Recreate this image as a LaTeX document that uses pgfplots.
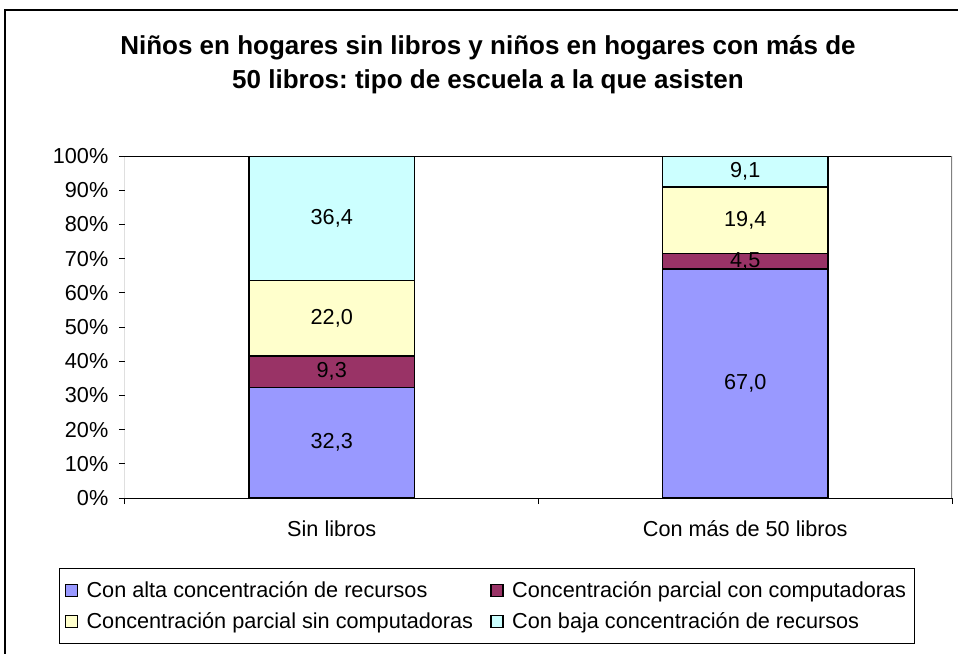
\documentclass[border=0pt]{standalone}
\usepackage{fontspec}
\setmainfont{Liberation Sans}
\usepackage{pgfplots}
\pgfplotsset{compat=1.18}
\definecolor{cblue}{HTML}{9999FF}
\definecolor{cmaroon}{HTML}{993366}
\definecolor{cyellow}{HTML}{FFFFCC}
\definecolor{ccyan}{HTML}{CCFFFF}
\newcommand{\bodyfont}{\fontsize{16.25}{19.5}\selectfont}
\frenchspacing
\pgfplotsset{
  mylegend/.style={legend image code/.code={\draw[##1, line width=0.8pt] (0pt,-4.5pt) rectangle (9pt,4.5pt);}},
  commonaxis/.style={
    at={(93.75pt,117pt)}, anchor=south west,
    scale only axis, width=620.25pt, height=256.5pt,
    xmin=-0.5, xmax=1.5, ymin=0, ymax=100,
  }
}
\begin{document}
\begin{tikzpicture}
\clip (0,0) rectangle (718.5pt,490.5pt);
\draw[line width=1.1pt] (3.75pt,-20pt) -- (3.75pt,483pt) -- (760pt,483pt);
\node[align=center,font=\fontsize{19.5}{26.25}\selectfont\bfseries] at (366pt,442pt)
  {Niños en hogares sin libros y niños en hogares con más de\\50 libros: tipo de escuela a la que asisten};
\begin{axis}[
  commonaxis,
  ybar stacked, bar width=0.4,
  xtick={0,1}, xticklabels={Sin libros, Con más de 50 libros},
  minor xtick={-0.5,0.5,1.5},
  ytick={0,10,...,100},
  yticklabel={\pgfmathprintnumber{\tick}\%},
  /pgf/number format/assume math mode=true,
  tick align=outside, xtick pos=bottom, ytick pos=left,
  major tick length=4.5pt, minor tick length=4.5pt,
  major x tick style={draw=none},
  tick style={black, line width=0.75pt},
  axis line style={draw=none},
  tick label style={font=\bodyfont},
  xticklabel style={yshift=-9pt},
  yticklabel style={xshift=-4.5pt},
  legend columns=2,
  legend cell align=left,
  legend style={at={(axis description cs:-0.0798,-0.4269)}, anchor=south west,
    draw=black, line width=0.75pt, font=\bodyfont, inner xsep=4pt, inner ysep=7.5pt,
    row sep=6pt,
    /tikz/every odd column/.append style={column sep=4.5pt},
    /tikz/every even column/.append style={column sep=11pt}},
]
\addplot[fill=cblue, draw=black, line width=1.3pt, mylegend] coordinates {(0,32.3) (1,67.0)};
\addplot[fill=cmaroon, draw=black, line width=1.3pt, mylegend] coordinates {(0,9.3) (1,4.5)};
\addplot[fill=cyellow, draw=black, line width=1.3pt, mylegend] coordinates {(0,22.0) (1,19.4)};
\addplot[fill=ccyan, draw=black, line width=1.3pt, mylegend] coordinates {(0,36.4) (1,9.1)};
\legend{Con alta concentración de recursos, Concentración parcial con computadoras,
        Concentración parcial sin computadoras, Con baja concentración de recursos}
\draw[gray, line width=1pt] (rel axis cs:1,0) -- (rel axis cs:1,1);
\draw[black, line width=0.75pt] (rel axis cs:1,1) -- (rel axis cs:0,1) -- (rel axis cs:0,0) -- (rel axis cs:1,0);
\end{axis}
\begin{axis}[commonaxis, axis lines=none]
\addplot[draw=none, mark=none,
  nodes near coords, point meta=explicit,
  nodes near coords align=center,
  every node near coord/.append style={font=\bodyfont, anchor=center, text=black},
  /pgf/number format/.cd, use comma, fixed, fixed zerofill, precision=1, assume math mode=true]
  coordinates {(0,16.15) [32.3] (0,36.95) [9.3] (0,52.6) [22.0] (0,81.8) [36.4]
               (1,33.5) [67.0] (1,69.25) [4.5] (1,81.2) [19.4] (1,95.45) [9.1]};
\end{axis}
\end{tikzpicture}
\end{document}
